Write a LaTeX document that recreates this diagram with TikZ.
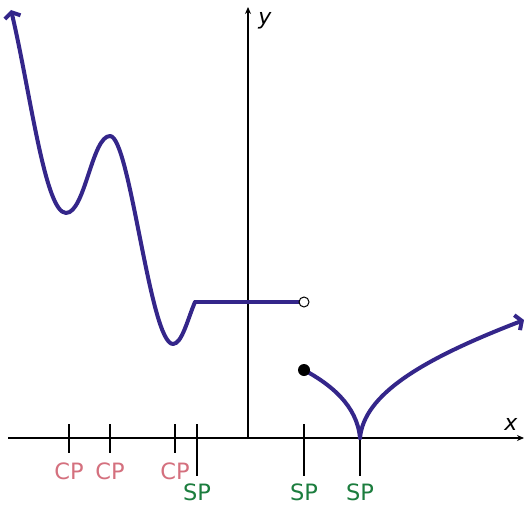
\documentclass[tikz,border=0pt]{standalone}
\usepackage{fontspec}
\setmainfont{DejaVu Sans}
\usetikzlibrary{arrows.meta}
\definecolor{curvecol}{RGB}{52,38,138}
\definecolor{cpcol}{RGB}{212,112,126}
\definecolor{spcol}{RGB}{28,125,62}
\tikzset{
  axis/.style={line width=1.1pt,-{Stealth[length=7pt,width=6pt]}},
  tick/.style={line width=1.1pt},
  curve/.style={line width=4pt,curvecol,line cap=round,line join=round},
  curvearrow/.style={curve,-{Straight Barb[length=5pt,width=16pt]}},
  cplabel/.style={text=cpcol,font=\fontsize{22.5}{26}\selectfont,inner sep=0pt},
  splabel/.style={text=spcol,font=\fontsize{22.5}{26}\selectfont,inner sep=0pt},
  axlabel/.style={font=\fontsize{22}{26}\selectfont\itshape,inner sep=0pt},
}
\begin{document}
\begin{tikzpicture}[x=1pt,y=-1pt]
\useasboundingbox (0,0) rectangle (524,505);
% axes
\coordinate (xs) at (8,438);
\coordinate (xe) at (524,438);
\coordinate (ys) at (248,438);
\coordinate (ye) at (248,7);
\draw[axis] (xs) -- (xe);
\draw[axis] (ys) -- (ye);
\node[axlabel] (xl) at (511,424) {x};
\node[axlabel] (yl) at (265,21) {y};
% CP ticks
\foreach \n/\px in {c1/69,c2/110,c3/175}{
  \coordinate (\n t) at (\px,424);
  \coordinate (\n b) at (\px,453);
  \draw[tick] (\n t) -- (\n b);
  \node[cplabel] (\n l) at (\px,471) {CP};
}
% SP ticks
\foreach \n/\px in {s1/197,s2/304}{
  \coordinate (\n t) at (\px,424);
  \coordinate (\n b) at (\px,476);
  \draw[tick] (\n t) -- (\n b);
  \node[splabel] (\n l) at (\px,492) {SP};
}
\coordinate (s3t) at (360,438);
\coordinate (s3b) at (360,476);
\draw[tick] (s3t) -- (s3b);
\node[splabel] (s3l) at (360,492) {SP};
% curve points
\coordinate (p0) at (11,10);
\coordinate (m1) at (66,213);
\coordinate (M1) at (110,136);
\coordinate (m2) at (173,344);
\coordinate (j) at (195,302);
\coordinate (oc) at (304,302);
\coordinate (fc) at (304,370);
\coordinate (cusp) at (360,438);
\coordinate (pe) at (524,320);
% left piece
\draw[curve,{Straight Barb[length=5pt,width=16pt]}-]
  (p0) .. controls (30,90) and (45,213) .. (m1)
  .. controls (85,213) and (92,136) .. (M1)
  .. controls (130,136) and (150,344) .. (m2)
  .. controls (182,344) and (188,318) .. (j);
\draw[curve,line cap=butt] (j) -- (oc);
\draw[fill=white,line width=1pt] (oc) circle (5pt);
% right piece
\draw[curve]
  (fc) .. controls (330,384) and (357,405) .. (cusp);
\draw[curvearrow]
  (cusp) .. controls (364,395) and (420,360) .. (pe);
\fill (fc) circle (6pt);
\end{tikzpicture}
\end{document}
